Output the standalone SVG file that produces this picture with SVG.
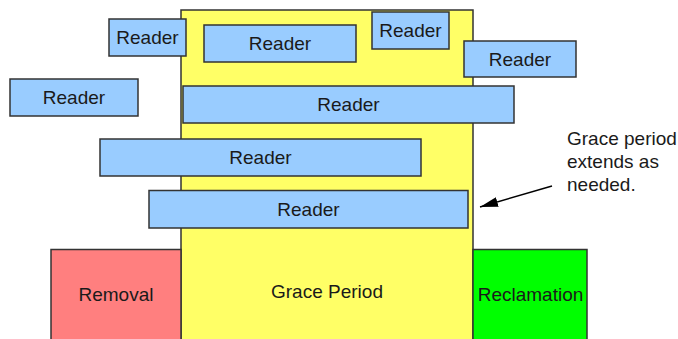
<svg xmlns="http://www.w3.org/2000/svg" width="678" height="339" viewBox="0 0 678 339">
  <defs>
    <style>
      text { font-family: "Liberation Sans", Arial, sans-serif; font-size: 19px; fill: #1a1a1a; }
      .box { stroke: #333333; stroke-width: 1.5; }
      .reader { fill: #99ccff; }
      .grace { fill: #ffff66; }
      .removal { fill: #ff7f7f; }
      .reclaim { fill: #00ff00; }
      .mid { text-anchor: middle; dominant-baseline: central; }
    </style>
    <marker id="arrowhead" viewBox="0 0 18 10" refX="18" refY="5" markerWidth="18" markerHeight="10" markerUnits="userSpaceOnUse" orient="auto">
      <path d="M0,0 L18,5 L0,10 z" fill="#000000"/>
    </marker>
  </defs>

  <rect width="678" height="339" fill="#ffffff"/>

  <!-- Phases -->
  <g id="grace-period">
    <rect class="box grace" x="181" y="10" width="292" height="340"/>
    <text class="mid" x="327" y="291">Grace Period</text>
  </g>
  <g id="removal">
    <rect class="box removal" x="51" y="249.5" width="130" height="100"/>
    <text class="mid" x="116" y="294">Removal</text>
  </g>
  <g id="reclamation">
    <rect class="box reclaim" x="473" y="249.5" width="114" height="100"/>
    <text class="mid" x="530.5" y="294">Reclamation</text>
  </g>

  <!-- Readers -->
  <g id="reader-1">
    <rect class="box reader" x="109" y="19" width="77" height="37"/>
    <text class="mid" x="147.5" y="37.5">Reader</text>
  </g>
  <g id="reader-2">
    <rect class="box reader" x="204" y="25" width="152" height="37"/>
    <text class="mid" x="280" y="43.5">Reader</text>
  </g>
  <g id="reader-3">
    <rect class="box reader" x="372" y="12" width="77" height="37"/>
    <text class="mid" x="410.5" y="30.5">Reader</text>
  </g>
  <g id="reader-4">
    <rect class="box reader" x="464" y="41" width="112" height="36"/>
    <text class="mid" x="520" y="59">Reader</text>
  </g>
  <g id="reader-5">
    <rect class="box reader" x="10" y="79" width="128" height="37"/>
    <text class="mid" x="74" y="97.5">Reader</text>
  </g>
  <g id="reader-6">
    <rect class="box reader" x="183" y="86" width="331" height="37"/>
    <text class="mid" x="348.5" y="104.5">Reader</text>
  </g>
  <g id="reader-7">
    <rect class="box reader" x="100" y="139" width="321" height="37"/>
    <text class="mid" x="260.5" y="157.5">Reader</text>
  </g>
  <g id="reader-8">
    <rect class="box reader" x="149" y="190.5" width="319" height="37.5"/>
    <text class="mid" x="308.5" y="209">Reader</text>
  </g>

  <!-- Annotation -->
  <g id="note">
    <text x="567" y="145">Grace period</text>
    <text x="567" y="168">extends as</text>
    <text x="567" y="191">needed.</text>
  </g>

  <g id="connectors">
    <line x1="552" y1="186" x2="480" y2="207" stroke="#000000" stroke-width="1.5" marker-end="url(#arrowhead)"/>
  </g>
</svg>
